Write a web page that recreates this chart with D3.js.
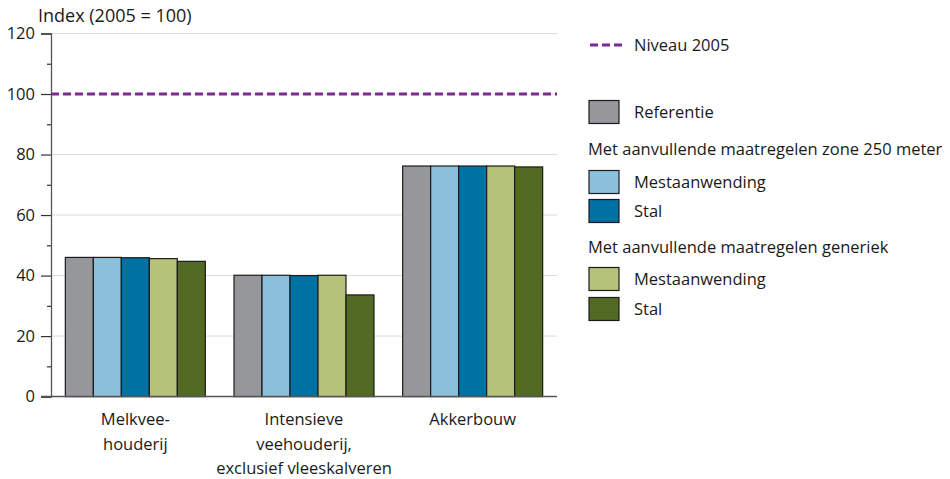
<!DOCTYPE html>
<meta charset="utf-8">
<script src="https://d3js.org/d3.v7.min.js"></script>
<style>
  body { margin: 0; background: #fff; }
  text { font-family: "Open Sans", sans-serif; fill: #1a1a1a; }
</style>
<div id="my_dataviz"></div>
<script>

// data
const categories = [
  ["Melkvee-", "houderij"],
  ["Intensieve", "veehouderij,", "exclusief vleeskalveren"],
  ["Akkerbouw"]
];
const seriesNames = ["Referentie", "Zone Mestaanwending", "Zone Stal", "Generiek Mestaanwending", "Generiek Stal"];
const referentie     = [46.0, 40.1, 76.2];
const zoneMest       = [46.0, 40.1, 76.2];
const zoneStal       = [45.9, 40.0, 76.2];
const generiekMest   = [45.6, 40.1, 76.2];
const generiekStal   = [44.7, 33.6, 75.9];
const niveau2005 = 100;
const yTicks = [0, 20, 40, 60, 80, 100, 120];
const yMinor = [10, 30, 50, 70, 90, 110];

const colors = ["#96979b", "#8bc0dd", "#0071a3", "#b5c37a", "#536a22"];
const allSeries = [referentie, zoneMest, zoneStal, generiekMest, generiekStal];

const W = 950, H = 479;
const margin = {left: 51, right: 557, top: 33.5, bottom: 396.6};
const fs = "16.5px";

const svg = d3.select("#my_dataviz")
  .append("svg")
    .attr("width", W)
    .attr("height", H);

const y = d3.scaleLinear().domain([0, 120]).range([margin.bottom, margin.top]);
const x0 = d3.scaleBand()
  .domain(d3.range(categories.length))
  .range([margin.left, margin.right])
  .paddingInner(0.17)
  .paddingOuter(0.085);
const x1 = d3.scaleBand()
  .domain(d3.range(seriesNames.length))
  .range([0, x0.bandwidth()]);

// gridlines
svg.append("g")
  .selectAll("line")
  .data(yTicks.slice(1))
  .join("line")
    .attr("x1", margin.left).attr("x2", margin.right)
    .attr("y1", d => y(d)).attr("y2", d => y(d))
    .attr("stroke", "#dcdcdc")
    .attr("stroke-width", 1);

// y axis
const yAxis = svg.append("g")
  .attr("transform", `translate(${margin.left},0)`)
  .call(d3.axisLeft(y).tickValues(yTicks).tickSize(10).tickPadding(6));
yAxis.select(".domain").attr("stroke", "#555").attr("stroke-width", 1.3);
yAxis.selectAll(".tick line").attr("stroke", "#333").attr("stroke-width", 1.2);
yAxis.selectAll(".tick text")
  .style("font-family", "'Open Sans', sans-serif")
  .style("font-size", fs)
  .attr("fill", "#1a1a1a");

svg.append("g")
  .attr("transform", `translate(${margin.left},0)`)
  .call(d3.axisLeft(y).tickValues(yMinor).tickSize(4).tickFormat(""))
  .call(g => g.select(".domain").remove())
  .selectAll(".tick line").attr("stroke", "#333").attr("stroke-width", 1.2);

// axis title
svg.append("text")
  .attr("x", 38).attr("y", 22)
  .style("font-size", "18px")
  .text("Index (2005 = 100)");

// bars
const groups = svg.append("g")
  .selectAll("g")
  .data(categories.map((c, i) => allSeries.map(s => s[i])))
  .join("g")
    .attr("transform", (d, i) => `translate(${x0(i)},0)`);

groups.selectAll("rect")
  .data(d => d)
  .join("rect")
    .attr("x", (d, j) => x1(j))
    .attr("y", d => y(d))
    .attr("width", x1.bandwidth())
    .attr("height", d => y(0) - y(d))
    .attr("fill", (d, j) => colors[j])
    .attr("stroke", "#1b1b1b")
    .attr("stroke-width", 1.2);

// baseline
svg.append("line")
  .attr("x1", margin.left - 10).attr("x2", margin.right)
  .attr("y1", y(0)).attr("y2", y(0))
  .attr("stroke", "#555")
  .attr("stroke-width", 1.5);

// 2005 level
svg.append("line")
  .attr("x1", margin.left).attr("x2", margin.right)
  .attr("y1", y(niveau2005)).attr("y2", y(niveau2005))
  .attr("stroke", "#7b2a8e")
  .attr("stroke-width", 3)
  .attr("stroke-dasharray", "8,4");

// category labels
const labels = svg.append("g")
  .selectAll("text")
  .data(categories)
  .join("text")
    .attr("text-anchor", "middle")
    .attr("x", (d, i) => x0(i) + x0.bandwidth() / 2)
    .attr("y", 425)
    .style("font-size", fs);
labels.selectAll("tspan")
  .data(d => d)
  .join("tspan")
    .attr("x", function() { return d3.select(this.parentNode).attr("x"); })
    .attr("dy", (d, i) => i === 0 ? 0 : 24.5)
    .text(d => d);

// legend
const lg = svg.append("g").style("font-size", fs);
lg.append("line")
  .attr("x1", 590).attr("x2", 622)
  .attr("y1", 45).attr("y2", 45)
  .attr("stroke", "#7b2a8e")
  .attr("stroke-width", 3)
  .attr("stroke-dasharray", "8,4");
lg.append("text").attr("x", 634).attr("y", 51).text("Niveau 2005");

const legendRows = [
  {label: "Referentie", color: colors[0], cy: 112},
  {label: "Mestaanwending", color: colors[1], cy: 182},
  {label: "Stal", color: colors[2], cy: 211},
  {label: "Mestaanwending", color: colors[3], cy: 279},
  {label: "Stal", color: colors[4], cy: 309}
];
lg.selectAll("rect")
  .data(legendRows)
  .join("rect")
    .attr("x", 589).attr("y", d => d.cy - 11.5)
    .attr("width", 30).attr("height", 23)
    .attr("fill", d => d.color)
    .attr("stroke", "#1b1b1b")
    .attr("stroke-width", 1.2);
lg.selectAll("text.row")
  .data(legendRows)
  .join("text")
    .attr("class", "row")
    .attr("x", 634).attr("y", d => d.cy + 6)
    .text(d => d.label);

const headers = [
  {label: "Met aanvullende maatregelen zone 250 meter", y: 155},
  {label: "Met aanvullende maatregelen generiek", y: 253}
];
lg.selectAll("text.head")
  .data(headers)
  .join("text")
    .attr("class", "head")
    .attr("x", 588).attr("y", d => d.y)
    .text(d => d.label);

</script>
